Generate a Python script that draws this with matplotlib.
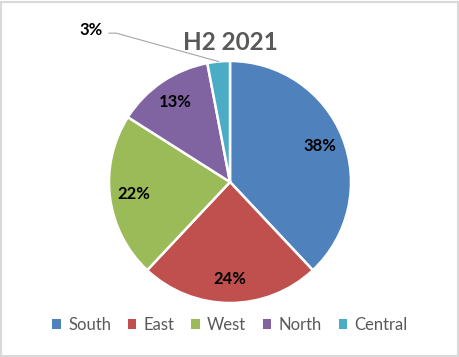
import matplotlib
matplotlib.use('Agg')
import matplotlib.pyplot as plt
import numpy as np
from matplotlib.patches import Rectangle

# data
regions = ['South', 'East', 'West', 'North', 'Central']
shares = [38, 24, 22, 13, 3]
colors = ['#4F81BD', '#C0504D', '#9BBB59', '#8064A2', '#4BACC6']
title = 'H2 2021'

plt.rcParams['font.family'] = ['Lato', 'DejaVu Sans']

W, H = 460, 357
fig = plt.figure(figsize=(W / 100, H / 100), dpi=100)

# outer frame like the Excel chart area
fig.patches.append(Rectangle((1 / W, 1 / H), 1 - 3 / W, 1 - 3 / H, transform=fig.transFigure,
                             fill=False, edgecolor='#D9D9D9', linewidth=1.5))

cx, cy, r = 230, 175, 121
ax = fig.add_axes([(cx - r) / W, (cy - r) / H, 2 * r / W, 2 * r / H])

wedges, texts, autotexts = ax.pie(
    shares, colors=colors, startangle=90, counterclock=False, radius=1,
    autopct=lambda p: '%d%%' % round(p), pctdistance=0.8,
    wedgeprops=dict(edgecolor='white', linewidth=1.8),
    textprops=dict(fontsize=12, fontweight='bold', color='black'))
ax.set_xlim(-1, 1)
ax.set_ylim(-1, 1)
ax.set_aspect('equal')

# small slice: label outside with a leader line
small = autotexts[-1]
small.set_position((-1.15, 1.26))
small.set_ha('center')
small.set_va('center')
ang = np.deg2rad(90 - (sum(shares[:-1]) + shares[-1] / 2) / sum(shares) * 360)
ax.plot([-1.0, -0.94, np.cos(ang)], [1.23, 1.23, np.sin(ang)],
        color='#A6A6A6', linewidth=0.8, clip_on=False)

fig.text(cx / W, 1 - 42 / H, title, ha='center', va='center', fontsize=17.5,
         fontweight='bold', color='#595959')

handles = [Rectangle((0, 0), 1, 1, facecolor=c) for c in colors]
fig.legend(handles, regions, loc='center', bbox_to_anchor=(0.5, 1 - 325 / H), ncol=5,
           frameon=False, fontsize=12, labelcolor='#595959', handlelength=0.5,
           handleheight=0.5, handletextpad=0.45, columnspacing=1.0)

fig.savefig('out.png', dpi=100)
